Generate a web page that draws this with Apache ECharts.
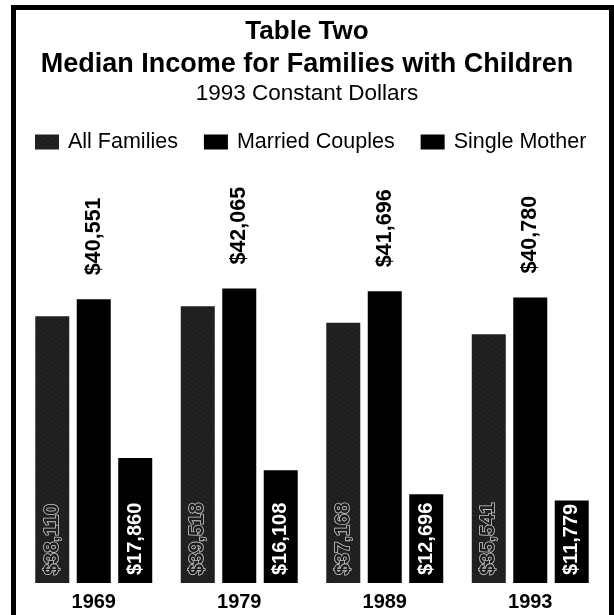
<!DOCTYPE html>
<html>
<head>
<meta charset="utf-8">
<script src="https://cdn.jsdelivr.net/npm/echarts@6/dist/echarts.min.js"></script>
<style>
html,body{margin:0;padding:0;background:#fff;}
#c{width:614px;height:615px;}
</style>
</head>
<body>
<div id="c"></div>
<script>
const years = ['1969', '1979', '1989', '1993'];
const allFamilies = [38110, 39518, 37168, 35541];
const marriedCouples = [40551, 42065, 41696, 40780];
const singleMother = [17860, 16108, 12696, 11779];
const seriesNames = ['All Families', 'Married Couples', 'Single Mother'];

const fmt = v => '$' + v.toLocaleString('en-US');
const FONT = '"Liberation Sans", Arial, Helvetica, sans-serif';

const speckle = {
  symbol: 'circle',
  symbolSize: 0.4,
  color: 'rgba(255,255,255,0.35)',
  dashArrayX: [[1, 0], [1, 0]],
  dashArrayY: [4, 0],
  symbolKeepAspect: true,
  rotation: 0.6
};

const chart = echarts.init(document.getElementById('c'), null, {renderer: 'canvas'});
chart.setOption({
  backgroundColor: '#fff',
  animation: false,
  graphic: [{
    type: 'rect',
    shape: {x: 13.5, y: 7.5, width: 598, height: 620},
    style: {fill: 'none', stroke: '#000', lineWidth: 5},
    z: 100
  }],
  title: [
    {text: 'Table Two', left: 'center', top: 14,
     textStyle: {fontFamily: FONT, fontWeight: 'bold', fontSize: 26, color: '#000'}},
    {text: 'Median Income for Families with Children', left: 'center', top: 46,
     textStyle: {fontFamily: FONT, fontWeight: 'bold', fontSize: 27, color: '#000'}},
    {text: '1993 Constant Dollars', left: 'center', top: 77,
     textStyle: {fontFamily: FONT, fontWeight: 'normal', fontSize: 22.5, color: '#000'}}
  ],
  legend: {
    data: seriesNames,
    left: 30,
    top: 126,
    itemWidth: 24,
    itemHeight: 15,
    itemGap: 26,
    icon: 'rect',
    textStyle: {fontFamily: FONT, fontSize: 21.5, color: '#000', padding: [0, 0, 0, 4]}
  },
  grid: {left: 21, right: 11, top: 163, bottom: 32, containLabel: false},
  xAxis: {
    type: 'category',
    data: years,
    axisLine: {show: false},
    axisTick: {show: false},
    axisLabel: {fontFamily: FONT, fontSize: 20, fontWeight: 'bold', color: '#000', margin: 9}
  },
  yAxis: {
    type: 'value',
    min: 0,
    max: 60000,
    show: false,
    splitLine: {show: false}
  },
  series: [
    {
      name: seriesNames[0],
      type: 'bar',
      data: allFamilies,
      barWidth: 34,
      barGap: '22%',
      itemStyle: {color: '#1e1e1e', decal: speckle},
      label: {
        show: true, position: 'insideBottom', rotate: 90, align: 'left', verticalAlign: 'middle',
        distance: 8, formatter: p => fmt(p.value),
        fontFamily: FONT, fontSize: 20, fontWeight: 'bold', color: '#1e1e1e',
        textBorderColor: '#c8c8c8', textBorderWidth: 1.6
      }
    },
    {
      name: seriesNames[1],
      type: 'bar',
      data: marriedCouples,
      barWidth: 34,
      barGap: '22%',
      itemStyle: {color: '#000'},
      label: {
        show: true, position: 'top', rotate: 90, align: 'left', verticalAlign: 'middle',
        distance: 24, formatter: p => fmt(p.value),
        fontFamily: FONT, fontSize: 21.5, fontWeight: 'bold', color: '#000'
      }
    },
    {
      name: seriesNames[2],
      type: 'bar',
      data: singleMother,
      barWidth: 34,
      barGap: '22%',
      itemStyle: {color: '#000'},
      label: {
        show: true, position: 'insideBottom', rotate: 90, align: 'left', verticalAlign: 'middle',
        distance: 8, formatter: p => fmt(p.value),
        fontFamily: FONT, fontSize: 20, fontWeight: 'bold', color: '#fff'
      }
    }
  ]
});
</script>
</body>
</html>
